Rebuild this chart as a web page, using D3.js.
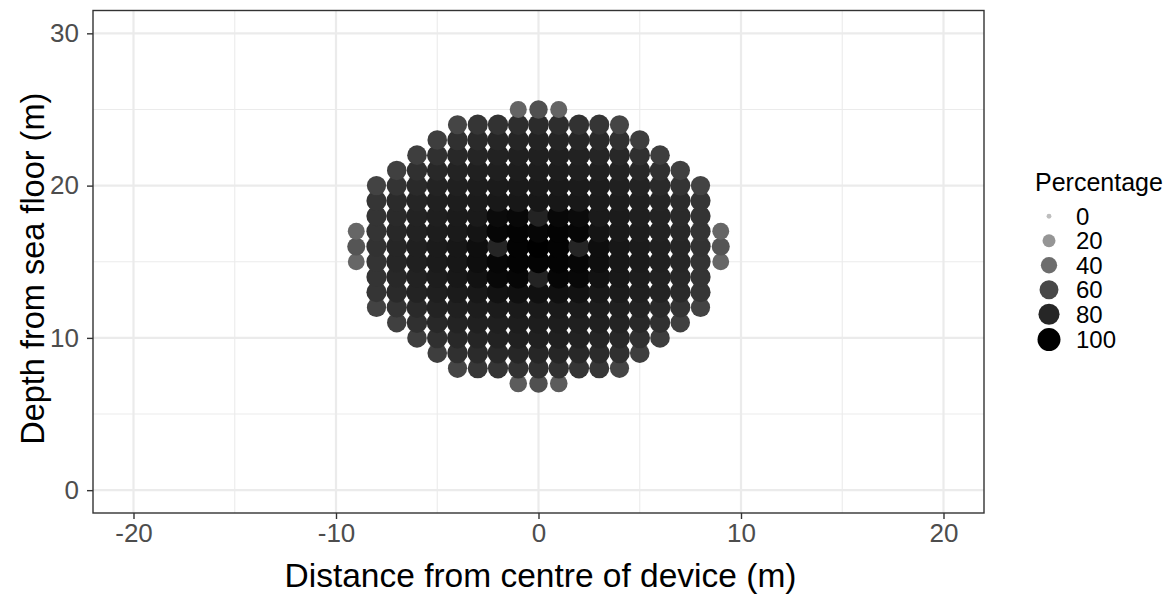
<!DOCTYPE html>
<html>
<head>
<meta charset="utf-8">
<script src="https://cdn.jsdelivr.net/npm/d3@7"></script>
<style>
html,body{margin:0;padding:0;background:#fff;}
svg text{font-family:"Liberation Sans",Arial,Helvetica,sans-serif;}
</style>
</head>
<body>
<svg id="chart" width="1173" height="595"></svg>
<script>
// ---- data ----
const depth = [25,24,23,22,21,20,19,18,17,16,15,14,13,12,11,10,9,8,7];
const rowStart = [-1,-4,-5,-6,-7,-8,-8,-8,-9,-9,-9,-8,-8,-8,-7,-6,-5,-4,-1];
const percentage = [
  [45,56,45],
  [62,71,73,76,77,76,73,71,62],
  [66,74,78,80,81,82,81,80,78,74,66],
  [66,74,79,81,83,84,84,84,83,81,79,74,66],
  [65,74,79,82,84,85,86,86,86,85,84,82,79,74,65],
  [63,72,78,82,84,86,87,88,88,88,87,86,84,82,78,72,63],
  [71,77,81,84,86,87,89,90,90,90,89,87,86,84,81,77,71],
  [72,78,82,85,87,88,96,97,82,97,96,88,87,85,82,78,72],
  [44,72,79,83,86,88,92,98,99,98,99,98,92,88,86,83,79,72,44],
  [53,73,80,84,87,90,95,81,99,100,99,81,95,90,87,84,80,73,53],
  [44,72,80,84,87,90,95,98,99,99,99,98,95,90,87,84,80,72,44],
  [72,79,83,86,89,93,97,98,82,98,97,93,89,86,83,79,72],
  [71,78,82,85,87,89,93,94,94,94,93,89,87,85,82,78,71],
  [63,72,78,82,84,86,87,88,88,88,87,86,84,82,78,72,63],
  [65,74,79,82,84,85,86,86,86,85,84,82,79,74,65],
  [66,74,79,81,83,84,84,84,83,81,79,74,66],
  [66,74,77,79,80,80,80,79,77,74,66],
  [62,70,71,73,74,73,71,70,62],
  [49,56,49]
];
const xTicks = [-20,-10,0,10,20];
const yTicks = [0,10,20,30];
const legendBreaks = [0,20,40,60,80,100];
const xTitle = "Distance from centre of device (m)";
const yTitle = "Depth from sea floor (m)";
const legendTitle = "Percentage";

// ---- build points ----
const points = [];
depth.forEach((y, i) => {
  percentage[i].forEach((v, j) => points.push({x: rowStart[i] + j, y: y, v: v}));
});
points.sort((a, b) => a.y - b.y || a.x - b.x);

// ---- layout ----
const panel = {left: 93, right: 984, top: 10.5, bottom: 513};
const x = d3.scaleLinear().domain([-22, 22]).range([panel.left, panel.right]);
const y = d3.scaleLinear().domain([-1.5, 31.5]).range([panel.bottom, panel.top]);
const colour = d3.scaleLinear().domain([0, 100]).range(["#bebebe", "#000000"]).interpolate(d3.interpolateLab);
const sizeMM = d3.scaleSqrt().domain([0, 100]).range([1, 6]);
const pxPerPt = 1.278;
const radius = v => pxPerPt * (2.845 * sizeMM(v) + 0.945) / 2;

const svg = d3.select("#chart");

svg.append("rect").attr("x", panel.left).attr("y", panel.top)
  .attr("width", panel.right - panel.left).attr("height", panel.bottom - panel.top)
  .attr("fill", "#fff");

const grid = svg.append("g");
const xMinor = [-15,-5,5,15], yMinor = [5,15,25];
grid.selectAll(".xmin").data(xMinor).enter().append("line")
  .attr("x1", d => x(d)).attr("x2", d => x(d)).attr("y1", panel.top).attr("y2", panel.bottom)
  .attr("stroke", "#ebebeb").attr("stroke-width", 1.1);
grid.selectAll(".ymin").data(yMinor).enter().append("line")
  .attr("y1", d => y(d)).attr("y2", d => y(d)).attr("x1", panel.left).attr("x2", panel.right)
  .attr("stroke", "#ebebeb").attr("stroke-width", 1.1);
grid.selectAll(".xmaj").data(xTicks).enter().append("line")
  .attr("x1", d => x(d)).attr("x2", d => x(d)).attr("y1", panel.top).attr("y2", panel.bottom)
  .attr("stroke", "#ebebeb").attr("stroke-width", 2.2);
grid.selectAll(".ymaj").data(yTicks).enter().append("line")
  .attr("y1", d => y(d)).attr("y2", d => y(d)).attr("x1", panel.left).attr("x2", panel.right)
  .attr("stroke", "#ebebeb").attr("stroke-width", 2.2);

// points
svg.append("g").selectAll("circle").data(points).enter().append("circle")
  .attr("cx", d => x(d.x)).attr("cy", d => y(d.y))
  .attr("r", d => radius(d.v))
  .attr("fill", d => colour(d.v));

// panel border
svg.append("rect").attr("x", panel.left).attr("y", panel.top)
  .attr("width", panel.right - panel.left).attr("height", panel.bottom - panel.top)
  .attr("fill", "none").attr("stroke", "#333333").attr("stroke-width", 1.4);

// axes
const xAxis = d3.axisBottom(x).tickValues(xTicks).tickSize(6).tickPadding(5).tickFormat(d3.format("d"));
const yAxis = d3.axisLeft(y).tickValues(yTicks).tickSize(6).tickPadding(8).tickFormat(d3.format("d"));
const gx = svg.append("g").attr("transform", `translate(0,${panel.bottom})`).call(xAxis);
const gy = svg.append("g").attr("transform", `translate(${panel.left},0)`).call(yAxis);
[gx, gy].forEach(g => {
  g.select(".domain").remove();
  g.selectAll(".tick line").attr("stroke", "#333333").attr("stroke-width", 1.4);
  g.selectAll(".tick text").attr("fill", "#4d4d4d").style("font-size", "26px")
    .style("font-family", '"Liberation Sans",Arial,sans-serif');
});
gx.selectAll(".tick text").text(d => d < 0 ? "-" + Math.abs(d) : String(d));

// axis titles
svg.append("text").attr("x", (panel.left + panel.right) / 2 + 2).attr("y", 587)
  .attr("text-anchor", "middle").style("font-size", "33.5px").attr("fill", "#000").text(xTitle);
svg.append("text").attr("transform", `translate(44,${(panel.top + panel.bottom) / 2 + 7}) rotate(-90)`)
  .attr("text-anchor", "middle").style("font-size", "32.5px").attr("fill", "#000").text(yTitle);

// legend
const lg = svg.append("g");
lg.append("text").attr("x", 1035).attr("y", 191).style("font-size", "25px").attr("fill", "#000").text(legendTitle);
let cy = 204;
legendBreaks.forEach(b => {
  const h = Math.max(24.5, 2 * radius(b) + 3.2);
  const c = cy + h / 2;
  lg.append("circle").attr("cx", 1049).attr("cy", c).attr("r", radius(b)).attr("fill", colour(b));
  lg.append("text").attr("x", 1076).attr("y", c).attr("dy", "0.36em")
    .style("font-size", "24px").attr("fill", "#000").text(b);
  cy += h;
});
</script>
</body>
</html>
